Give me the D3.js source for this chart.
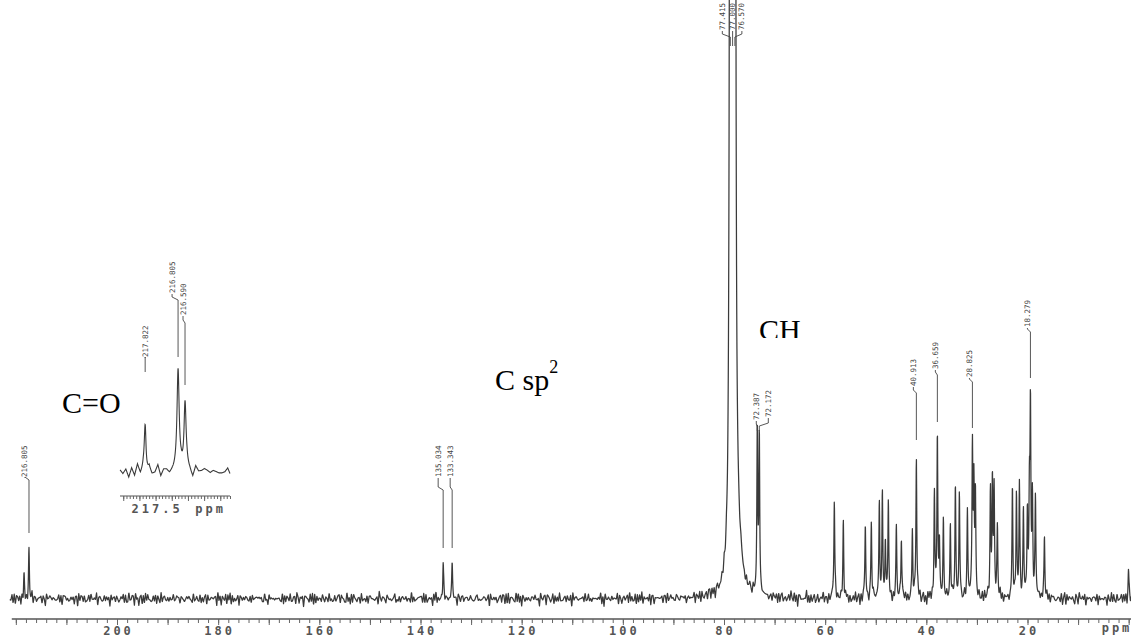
<!DOCTYPE html>
<html>
<head>
<meta charset="utf-8">
<script src="https://cdn.jsdelivr.net/npm/d3@7"></script>
<style>
  body { margin: 0; background: #fff; }
  svg { display: block; }
  .lbl { font-family: "DejaVu Sans Mono", monospace; font-size: 7.5px; fill: #444; }
  .tick-lbl { font-family: "DejaVu Sans Mono", monospace; font-size: 12px; font-weight: bold; fill: #555; letter-spacing: 3px; }
  .group { font-family: "Liberation Serif", "Times New Roman", serif; font-size: 30px; fill: #000; }
</style>
</head>
<body>
<div id="plot"></div>
<script>
// ---- data ----
// peak positions (ppm) and heights (arbitrary units) of the full spectrum
var peakPpm = [218.39, 217.40, 135.52, 133.74, 78.75, 78.30, 77.85, 77.30, 73.42, 73.02,
  58.19, 56.41, 52.06, 50.87, 49.29, 48.69, 48.10, 47.51, 45.93, 44.94, 42.76, 41.97,
  38.41, 37.82, 37.42, 36.63, 35.25, 34.26, 33.47, 31.88, 30.89, 30.60, 30.30,
  27.33, 26.94, 26.60, 25.95, 22.98, 22.19, 21.60, 20.81, 20.02, 19.62, 19.42, 19.03, 18.43, 16.65, 0.04]
var peakHeight = [4.2, 9.8, 7.2, 6.8, 400, 400, 400, 8, 33, 31.5,
  20.2, 15.4, 14.8, 14.6, 19.2, 20.2, 11.2, 18.8, 14.2, 12.6, 13.6, 28.6,
  20.8, 32, 11, 15.2, 14.6, 21.6, 20.8, 17.4, 30, 22, 20,
  21, 23, 21, 13.8, 21.4, 20.4, 22.6, 17.6, 16.8, 18, 38, 19, 19.8, 12.8, 5.4]
// half widths (ppm)
var peakWidth = peakPpm.map(function (p, i) { return i >= 4 && i <= 6 ? 0.12 : (i === 7 ? 0.8 : 0.1) })

// printed peak labels and the peak (index into peakPpm) each one marks
var labelText = ["216.805", "135.034", "133.343", "77.415", "77.000", "76.570", "72.387", "72.172", "40.913", "36.659", "28.825", "18.279"]
var labelPeak = [1, 2, 3, 4, 5, 6, 8, 9, 21, 23, 30, 43]

// expanded inset of the carbonyl region
var insetPpm = [217.822, 216.805, 216.590]
var insetHeight = [10, 20, 14]
var insetText = ["217.822", "216.805", "216.590"]

// axis ticks
var tickValues = [200, 180, 160, 140, 120, 100, 80, 60, 40, 20]
var insetTick = 217.5

// group annotations
var groupText = ["C=O", "C sp", "CH"]

// two short hand-written wiggle patterns used as baseline noise
var noiseA = [0.3, -0.6, 0.8, -0.2, 0.5, -0.9, 0.1, 0.7, -0.4, 0.2, -0.7, 0.6, -0.1, 0.9, -0.5, 0.3, -0.8, 0.4, 0.0,
  -0.3, 0.7, -0.6, 0.2, 0.5, -0.9, 0.6, -0.2, 0.1, 0.8, -0.5, 0.3, -0.1, -0.7, 0.6, 0.2, -0.4, 0.9]
var noiseB = [-0.5, 0.4, 0.1, -0.8, 0.6, -0.2, 0.7, -0.3, 0.0, 0.5, -0.6, 0.3, -0.9, 0.8, -0.1, 0.2, -0.4, 0.6, -0.7,
  0.1, 0.9, -0.5, 0.3, -0.2, 0.4, -0.8, 0.5, 0.2, -0.3]

// ---- layout ----
var svgWidth = 1131
var svgHeight = 638
var baseY = 599
var axisY = 619

// label layout: x offset from peak, bottom of text, elbow y, end of line
var labelLayout = [
  { dx: -4, end: 477, elbow: 477, bottom: 533 },
  { dx: -5, end: 477, elbow: 487, bottom: 548 },
  { dx: -2, end: 477, elbow: 487, bottom: 548 },
  { dx: -8, end: 30, elbow: 34, bottom: 46 },
  { dx: 0, end: 30, elbow: 34, bottom: 46 },
  { dx: 7, end: 30, elbow: 34, bottom: 46 },
  { dx: -1, end: 420, elbow: 424, bottom: 431 },
  { dx: 9, end: 417, elbow: 423, bottom: 431 },
  { dx: -3, end: 386, elbow: 390, bottom: 440 },
  { dx: -2, end: 369, elbow: 372, bottom: 422 },
  { dx: -3, end: 377, elbow: 379, bottom: 428 },
  { dx: -3, end: 327, elbow: 329, bottom: 378 }
]
var insetLayout = [
  { dx: 0, end: 357, elbow: 357, bottom: 410 },
  { dx: -6, end: 293, elbow: 297, bottom: 357 },
  { dx: -2, end: 315, elbow: 320, bottom: 385 }
]

var svg = d3.select("#plot")
  .append("svg")
  .attr("width", svgWidth)
  .attr("height", svgHeight)

svg.append("rect").attr("width", svgWidth).attr("height", svgHeight).attr("fill", "#fff")

// scales
var x = d3.scaleLinear().domain([200, 20]).range([117, 1027.5])
var y = d3.scaleLinear().domain([0, 100]).range([baseY, baseY - 500])

var xi = d3.scaleLinear().domain([218.6, 215.2]).range([120, 230])
var yi = d3.scaleLinear().domain([0, 20]).range([472, 372])

function nz(k) {
  return 0.6 * noiseA[k % noiseA.length] + 0.5 * noiseB[k % noiseB.length]
}

// build a trace from the peak list plus baseline wiggle
function trace(lo, hi, step, ppms, hs, ws, knot, amp, shift) {
  var pts = []
  for (var p = hi; p >= lo; p -= step) {
    var v = 0
    for (var i = 0; i < ppms.length; i++) {
      var d = (p - ppms[i]) / ws[i]
      v += hs[i] / (1 + d * d)
    }
    var k = (hi - p) / knot
    var k0 = Math.floor(k)
    var f = k - k0
    v += amp * ((1 - f) * nz(k0 + shift) + f * nz(k0 + 1 + shift))
    pts.push([p, v])
  }
  return pts
}

var line = d3.line().x(function (d) { return x(d[0]) }).y(function (d) { return y(d[1]) })
var lineInset = d3.line().x(function (d) { return xi(d[0]) }).y(function (d) { return yi(d[1]) })

var mainData = trace(-0.8, 221.2, 0.04, peakPpm, peakHeight, peakWidth, 0.22, 1.6, 0)
svg.append("path")
  .attr("d", line(mainData))
  .attr("fill", "none")
  .attr("stroke", "#3a3a3a")
  .attr("stroke-width", 1.25)
  .attr("stroke-linejoin", "round")

// main axis
var axisG = svg.append("g").attr("transform", "translate(0," + axisY + ")")
axisG.append("line")
  .attr("x1", x(220.8)).attr("x2", x(-0.7))
  .attr("stroke", "#555").attr("stroke-width", 1.3)
axisG.append("g")
  .call(d3.axisBottom(x).tickValues(d3.range(220, -1, -2)).tickSize(4).tickFormat(""))
  .call(function (g) { g.select(".domain").remove() })
  .selectAll("line").attr("stroke", "#666")
axisG.append("g")
  .call(d3.axisBottom(x).tickValues(d3.range(220, -1, -10)).tickSize(6).tickFormat(""))
  .call(function (g) { g.select(".domain").remove() })
  .selectAll("line").attr("stroke", "#666")
axisG.selectAll(".tick-lbl")
  .data(tickValues)
  .enter()
  .append("text")
  .attr("class", "tick-lbl")
  .attr("x", function (d) { return x(d) + 1.5 })
  .attr("y", 16)
  .attr("text-anchor", "middle")
  .text(function (d) { return d })
axisG.append("text")
  .attr("class", "tick-lbl")
  .attr("x", x(2.6) + 1.5)
  .attr("y", 13)
  .attr("text-anchor", "middle")
  .text("ppm")

// peak labels
function drawLabels(g, texts, px, layout) {
  texts.forEach(function (t, i) {
    var L = layout[i]
    var lx = px[i] + L.dx
    g.append("text")
      .attr("class", "lbl")
      .attr("transform", "translate(" + (lx + 2.5) + "," + L.end + ") rotate(-90)")
      .text(t)
    g.append("path")
      .attr("d", d3.line()([[lx, L.end + 1], [lx, L.elbow], [px[i], L.elbow + 3], [px[i], L.bottom]]))
      .attr("fill", "none")
      .attr("stroke", "#444")
      .attr("stroke-width", 0.9)
  })
}
drawLabels(svg.append("g"), labelText,
  labelPeak.map(function (k) { return x(peakPpm[k]) }), labelLayout)

// inset
var insetData = trace(215.2, 218.6, 0.005, insetPpm, insetHeight, [0.035, 0.04, 0.04], 0.09, 1.5, 7)
svg.append("path")
  .attr("d", lineInset(insetData))
  .attr("fill", "none")
  .attr("stroke", "#3a3a3a")
  .attr("stroke-width", 1.1)
var insetAxis = svg.append("g").attr("transform", "translate(0,496)")
insetAxis.append("line").attr("x1", 120).attr("x2", 230).attr("stroke", "#555")
insetAxis.append("g")
  .call(d3.axisBottom(xi).tickValues(d3.range(218.5, 215.2, -0.1)).tickSize(3).tickFormat(""))
  .call(function (g) { g.select(".domain").remove() })
  .selectAll("line").attr("stroke", "#666")
insetAxis.append("g")
  .call(d3.axisBottom(xi).tickValues(d3.range(218.5, 215.2, -0.5)).tickSize(5).tickFormat(""))
  .call(function (g) { g.select(".domain").remove() })
  .selectAll("line").attr("stroke", "#666")
insetAxis.append("text")
  .attr("class", "tick-lbl")
  .attr("x", xi(insetTick) + 1.5)
  .attr("y", 17)
  .attr("text-anchor", "middle")
  .text(insetTick.toFixed(1))
insetAxis.append("text")
  .attr("class", "tick-lbl")
  .attr("x", xi(insetTick) + 55)
  .attr("y", 17)
  .attr("text-anchor", "middle")
  .text("ppm")

drawLabels(svg.append("g"), insetText, insetPpm.map(function (p) { return xi(p) }), insetLayout)

// group annotations, pasted on white boxes
svg.append("rect").attr("x", 42).attr("y", 372).attr("width", 121).attr("height", 48).attr("fill", "#fff")
svg.append("text").attr("class", "group").attr("x", 62).attr("y", 413).text(groupText[0])

var sp = svg.append("text").attr("class", "group").attr("x", 495).attr("y", 390)
sp.append("tspan").text(groupText[1])
sp.append("tspan").attr("dy", -17).style("font-size", "18px").text("2")

svg.append("clipPath").attr("id", "chClip")
  .append("rect").attr("x", 740).attr("y", 300).attr("width", 100).attr("height", 38)
svg.append("text").attr("class", "group").attr("x", 759).attr("y", 340)
  .attr("clip-path", "url(#chClip)")
  .text(groupText[2])
</script>
</body>
</html>
